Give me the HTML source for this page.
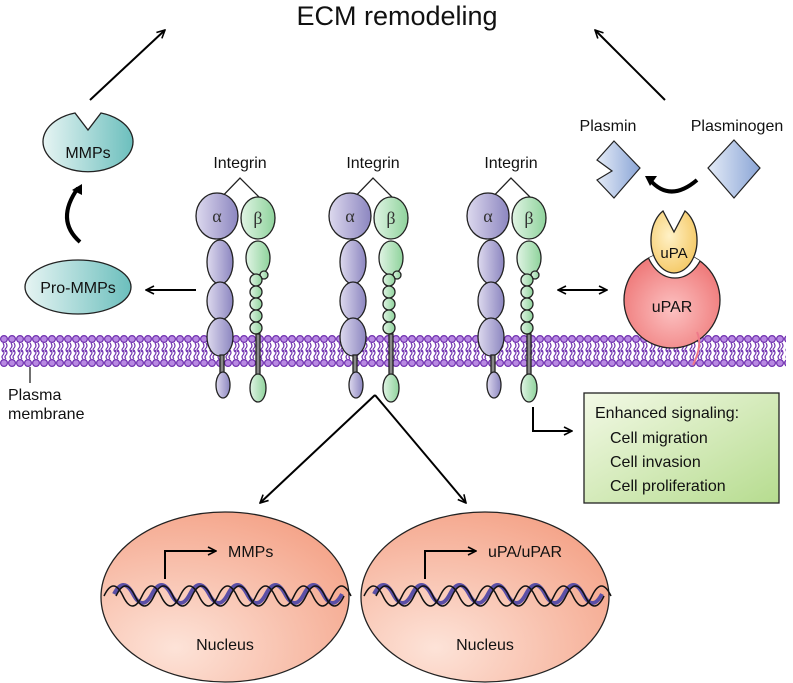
<!DOCTYPE html>
<html><head><meta charset="utf-8"><style>
html,body{margin:0;padding:0;background:#fff;}
svg{display:block;font-family:"Liberation Sans",sans-serif;}
</style></head><body>
<svg width="793" height="683" viewBox="0 0 793 683" xmlns="http://www.w3.org/2000/svg">
<defs>
<marker id="ah" viewBox="0 0 10 10" refX="9" refY="5" markerWidth="10" markerHeight="10" orient="auto-start-reverse" markerUnits="userSpaceOnUse"><path d="M1,1 L9,5 L1,9" fill="none" stroke="#000" stroke-width="1.6"/></marker>
<linearGradient id="teal" x1="0" x2="1"><stop offset="0" stop-color="#e6f4f3"/><stop offset="1" stop-color="#6cbfbd"/></linearGradient>
<linearGradient id="lav" x1="0" x2="1"><stop offset="0" stop-color="#ddd9ee"/><stop offset="1" stop-color="#8c86c0"/></linearGradient>
<linearGradient id="grn" x1="0" x2="1"><stop offset="0" stop-color="#e0f4e4"/><stop offset="1" stop-color="#8fd39c"/></linearGradient>
<linearGradient id="blu" x1="0" x2="1"><stop offset="0" stop-color="#e4ebf7"/><stop offset="1" stop-color="#8aa5d6"/></linearGradient>
<linearGradient id="box" x1="0" y1="0" x2="1" y2="1"><stop offset="0" stop-color="#f3f9e6"/><stop offset="1" stop-color="#b6dc8f"/></linearGradient>
<radialGradient id="nuc" cx="0.3" cy="0.8" r="0.9"><stop offset="0" stop-color="#fde3d8"/><stop offset="1" stop-color="#f4a287"/></radialGradient>
<radialGradient id="upa" cx="0.4" cy="0.4" r="0.7"><stop offset="0" stop-color="#fff1c6"/><stop offset="1" stop-color="#f4c65e"/></radialGradient>
<radialGradient id="upar" cx="0.5" cy="0.6" r="0.7"><stop offset="0" stop-color="#fcc1c1"/><stop offset="1" stop-color="#ec6a6a"/></radialGradient>
<clipPath id="uparClip"><circle cx="672" cy="300" r="48"/></clipPath>
<pattern id="mem" x="0" y="335" width="8" height="32" patternUnits="userSpaceOnUse">
<circle cx="4" cy="4" r="3.4" fill="#b889e2" stroke="#7030b0" stroke-width="1.2"/>
<circle cx="4" cy="28" r="3.4" fill="#b889e2" stroke="#7030b0" stroke-width="1.2"/>
<path d="M3,8 q2,3 0,5 q-2,2 0,4 M6,8 q2,3 0,5 q-2,2 0,4" fill="none" stroke="#7030b0" stroke-width="1.2"/>
<path d="M3,15 q2,3 0,5 q-2,2 0,4 M6,15 q2,3 0,5 q-2,2 0,4" fill="none" stroke="#7030b0" stroke-width="1.2"/>
</pattern>
<g id="integrin" stroke="#222" stroke-width="1.3">
<polyline points="213,206 240,178 262,200" fill="none"/>
<ellipse cx="220" cy="262" rx="13" ry="22" fill="url(#lav)"/>
<ellipse cx="220" cy="301" rx="13" ry="19" fill="url(#lav)"/>
<ellipse cx="220" cy="337" rx="13" ry="19" fill="url(#lav)"/>
<rect x="220" y="355" width="4" height="20" fill="#888"/>
<ellipse cx="223" cy="385" rx="7" ry="13" fill="url(#lav)"/>
<ellipse cx="217" cy="216" rx="21" ry="23" fill="url(#lav)"/>
<ellipse cx="258" cy="258" rx="12" ry="17" fill="url(#grn)"/>
<circle cx="264" cy="275" r="4" fill="url(#grn)"/>
<circle cx="256" cy="280" r="6" fill="url(#grn)"/>
<circle cx="256" cy="292" r="6" fill="url(#grn)"/>
<circle cx="256" cy="304" r="6" fill="url(#grn)"/>
<circle cx="256" cy="316" r="6" fill="url(#grn)"/>
<circle cx="256" cy="328" r="6" fill="url(#grn)"/>
<rect x="256" y="334" width="4" height="41" fill="#888"/>
<ellipse cx="258" cy="388" rx="8" ry="14" fill="url(#grn)"/>
<ellipse cx="258" cy="218" rx="17" ry="21" fill="url(#grn)"/>
<text x="217" y="222" font-size="18" text-anchor="middle" fill="#333" stroke="none" font-family="Liberation Serif,serif">α</text>
<text x="258" y="224" font-size="18" text-anchor="middle" fill="#333" stroke="none" font-family="Liberation Serif,serif">β</text>
<text x="240" y="168" font-size="16" text-anchor="middle" fill="#111" stroke="none">Integrin</text>
</g>
</defs>

<text x="397" y="25" font-size="27" text-anchor="middle" fill="#111">ECM remodeling</text>
<line x1="90" y1="100" x2="165" y2="30" stroke="#000" stroke-width="2" marker-end="url(#ah)"/>
<line x1="665" y1="100" x2="595" y2="30" stroke="#000" stroke-width="2" marker-end="url(#ah)"/>

<rect x="0" y="335" width="786" height="32" fill="url(#mem)"/>
<line x1="30" y1="367" x2="30" y2="383" stroke="#222" stroke-width="1.3"/>
<text x="8" y="400" font-size="16" fill="#111">Plasma</text>
<text x="8" y="419" font-size="16" fill="#111">membrane</text>

<path d="M75,113 A45,30 0 1 0 101,113 L88,130 Z" fill="url(#teal)" stroke="#222" stroke-width="1.3"/>
<text x="88" y="158" font-size="16" text-anchor="middle" fill="#111">MMPs</text>
<path d="M80,242 Q55,220 78,188" fill="none" stroke="#000" stroke-width="4"/>
<path d="M72,190 L82,184 L82,195 Z" fill="#000"/>
<ellipse cx="78" cy="287" rx="53" ry="27" fill="url(#teal)" stroke="#222" stroke-width="1.3"/>
<text x="78" y="293" font-size="16" text-anchor="middle" fill="#111">Pro-MMPs</text>
<line x1="196" y1="290" x2="146" y2="290" stroke="#000" stroke-width="2" marker-end="url(#ah)"/>

<use href="#integrin"/>
<use href="#integrin" x="133"/>
<use href="#integrin" x="271"/>

<line x1="558" y1="290" x2="607" y2="290" stroke="#000" stroke-width="2" marker-start="url(#ah)" marker-end="url(#ah)"/>
<text x="608" y="131" font-size="16" text-anchor="middle" fill="#111">Plasmin</text>
<text x="737" y="131" font-size="16" text-anchor="middle" fill="#111">Plasminogen</text>
<path d="M614,141 L640,168 L614,198 L597,180 L612,171 L597,160 Z" fill="url(#blu)" stroke="#222" stroke-width="1.2"/>
<path d="M734,140 L760,168 L734,198 L708,168 Z" fill="url(#blu)" stroke="#222" stroke-width="1.2"/>
<path d="M650,180 Q670,203 697,180" fill="none" stroke="#000" stroke-width="4"/>
<path d="M645,176 L657,176 L650,186 Z" fill="#000"/>
<circle cx="672" cy="300" r="48" fill="url(#upar)" stroke="#222" stroke-width="1.3"/>
<g clip-path="url(#uparClip)"><ellipse cx="675" cy="240" rx="30" ry="38" fill="#fff" stroke="#222" stroke-width="1.3"/></g>
<path d="M663,211 A23,33 0 1 0 685,211 L674,232 Z" fill="url(#upa)" stroke="#222" stroke-width="1.3"/>
<path d="M697,332 Q703,345 693,365" fill="none" stroke="#ee7a8a" stroke-width="2"/>
<text x="674" y="258" font-size="15" text-anchor="middle" fill="#111">uPA</text>
<text x="672" y="312" font-size="16" text-anchor="middle" fill="#111">uPAR</text>

<polyline points="533,407 533,431 572,431" fill="none" stroke="#000" stroke-width="2" marker-end="url(#ah)"/>
<rect x="584" y="393" width="195" height="110" fill="url(#box)" stroke="#222" stroke-width="1.3"/>
<text x="595" y="418" font-size="16" fill="#111">Enhanced signaling:</text>
<text x="610" y="443" font-size="16" fill="#111">Cell migration</text>
<text x="610" y="467" font-size="16" fill="#111">Cell invasion</text>
<text x="610" y="491" font-size="16" fill="#111">Cell proliferation</text>

<line x1="375" y1="395" x2="260" y2="503" stroke="#000" stroke-width="2" marker-end="url(#ah)"/>
<line x1="375" y1="395" x2="466" y2="503" stroke="#000" stroke-width="2" marker-end="url(#ah)"/>

<g id="n1">
<ellipse cx="225" cy="597" rx="124" ry="85" fill="url(#nuc)" stroke="#222" stroke-width="1.3"/>
<path d="M114,594 q9.5,-18 19,0 t19,0 t19,0 t19,0 t19,0 t19,0 t19,0 t19,0 t19,0 t19,0 t19,0 t19,0" fill="none" stroke="#5b4fa6" stroke-width="4"/>
<path d="M104,596 q9.5,-20 19,0 t19,0 t19,0 t19,0 t19,0 t19,0 t19,0 t19,0 t19,0 t19,0 t19,0 t19,0 t19,0" fill="none" stroke="#111" stroke-width="1.5"/>
<path d="M116,596 q9.5,-20 19,0 t19,0 t19,0 t19,0 t19,0 t19,0 t19,0 t19,0 t19,0 t19,0 t19,0 t19,0" fill="none" stroke="#111" stroke-width="1.5"/>
<polyline points="165,579 165,551 216,551" fill="none" stroke="#000" stroke-width="2" marker-end="url(#ah)"/>
<text x="225" y="650" font-size="16" text-anchor="middle" fill="#111">Nucleus</text>
</g>
<text x="228" y="557" font-size="16" fill="#111">MMPs</text>
<use href="#n1" x="260"/>
<text x="488" y="557" font-size="16" fill="#111">uPA/uPAR</text>
</svg>
</body></html>
